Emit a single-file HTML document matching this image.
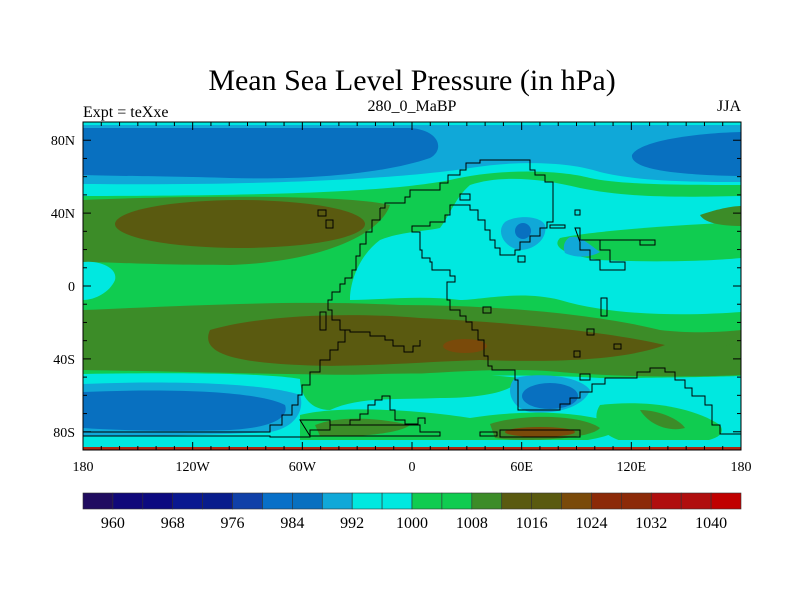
<!DOCTYPE html>
<html><head><meta charset="utf-8"><style>
body{margin:0;background:#fff;}
svg text{font-family:"Liberation Serif",serif;fill:#000;}
</style></head><body>
<svg id="s" width="800" height="600" xmlns="http://www.w3.org/2000/svg">
<defs><clipPath id="pc"><rect x="83" y="122" width="658" height="328"/></clipPath></defs>
<text x="412" y="90" font-size="30" text-anchor="middle">Mean Sea Level Pressure (in hPa)</text>
<text x="83" y="117" font-size="16">Expt = teXxe</text>
<text x="412" y="111" font-size="16" text-anchor="middle">280_0_MaBP</text>
<text x="741" y="111" font-size="16" text-anchor="end">JJA</text>
<g clip-path="url(#pc)">
<rect x="83" y="122" width="658" height="328" fill="#10CC50"/>
<path d="M83 122H741V185C690 185 620 185 590 178C560 170 500 168 450 180C400 190 300 196 83 196Z" fill="#00E8E0"/>
<path d="M83 125H741V182C700 182 640 182 600 172C570 162 520 160 470 168C420 176 300 186 83 184Z" fill="#10A8D8"/>
<path d="M83 128H410C440 130 445 150 430 158C380 175 300 180 230 178C160 176 110 176 83 175Z" fill="#0870C0"/>
<path d="M741 132C700 133 640 140 632 155C630 170 680 175 741 176Z" fill="#0870C0"/>
<path d="M83 200C200 195 350 195 390 205C380 235 320 262 230 265C150 265 110 262 83 262Z" fill="#3C8C28"/>
<ellipse cx="240" cy="224" rx="125" ry="24" fill="#5A5A10"/>
<!-- central cyan -->
<path d="M470 185C500 175 540 178 580 188C620 196 660 198 741 196V312C700 315 620 318 560 300C520 290 480 300 460 300C420 295 380 300 350 300C350 280 360 255 380 240C400 232 420 232 440 228C450 215 455 198 470 185Z" fill="#00E8E0"/>
<path d="M560 238C600 230 680 225 741 222V258C700 262 640 262 600 260C570 256 550 248 560 238Z" fill="#10CC50"/>
<path d="M700 215C720 208 735 206 741 206V226C725 226 705 224 700 215Z" fill="#3C8C28"/>
<path d="M83 262C100 260 118 268 115 280C110 292 95 300 83 300Z" fill="#00E8E0"/>
<path d="M505 222C515 215 540 215 545 225C548 238 535 250 520 250C505 248 495 232 505 222Z" fill="#10A8D8"/>
<ellipse cx="523" cy="231" rx="8" ry="8" fill="#0870C0"/>
<path d="M570 237C580 235 590 245 600 252C590 258 575 258 565 253C562 246 565 240 570 237Z" fill="#10A8D8"/>
<!-- southern subtropical high -->
<path d="M83 310C200 305 300 300 400 305C500 305 600 315 660 330C700 335 741 330 741 330V375C680 378 600 376 560 372C500 366 420 375 380 375C300 375 200 372 83 370Z" fill="#3C8C28"/>
<path d="M210 330C260 315 350 312 420 318C500 322 600 330 665 345C620 362 540 362 480 360C420 362 350 368 300 365C230 362 200 352 210 330Z" fill="#5A5A10"/>
<ellipse cx="465" cy="346" rx="22" ry="7" fill="#7A4A0A"/>
<path d="M741 342C720 345 712 352 720 358C728 362 741 362 741 362Z" fill="#3C8C28"/>
<!-- southern lows -->
<path d="M83 374C200 372 280 374 305 380C320 395 310 430 300 445H83Z" fill="#00E8E0"/>
<path d="M83 384C180 380 270 384 300 395C305 410 295 428 270 432C200 436 120 436 83 436Z" fill="#10A8D8"/>
<path d="M83 392C180 388 260 392 285 405C290 418 270 428 230 430C170 432 110 430 83 428Z" fill="#0870C0"/>
<path d="M305 385C400 378 500 372 600 378C680 378 741 376 741 376V448H300Z" fill="#00E8E0"/>
<path d="M300 378C380 372 470 372 520 378C515 392 480 398 440 398C400 400 360 396 330 410C310 410 300 395 300 378Z" fill="#10CC50"/>
<path d="M600 405C640 400 690 405 720 425C730 440 700 445 640 445C600 440 590 420 600 405Z" fill="#10CC50"/>
<path d="M640 410C660 410 680 420 685 428C670 432 650 426 640 410Z" fill="#3C8C28"/>
<path d="M515 378C540 372 580 376 590 390C585 405 560 415 530 412C510 408 505 388 515 378Z" fill="#10A8D8"/>
<ellipse cx="550" cy="396" rx="28" ry="13" fill="#0870C0"/>
<path d="M300 415C340 405 420 410 470 418C520 410 580 410 620 425C620 440 560 446 480 446C400 446 320 446 300 440Z" fill="#10CC50"/>
<path d="M315 425C340 415 380 418 410 425C400 434 350 438 320 436Z" fill="#3C8C28"/>
<path d="M490 424C520 414 580 414 600 428C590 440 520 442 495 438Z" fill="#3C8C28"/>
<ellipse cx="540" cy="432" rx="35" ry="5" fill="#7A4A0A"/>
<rect x="83" y="440" width="658" height="7" fill="#00E8E0"/>
<rect x="83" y="447" width="658" height="3" fill="#B02810"/>
<g fill="none" stroke="#000" stroke-width="1">
<path d="M380 208H385V203H405V197H410V190H440V183H448V175H460V170H466V163H480V160H530V170H535V175H545V182H553V222H547V228H540V236H530V242H520V250H515V255H500V248H495V240H490V230H485V220H478V210H470V205H450V215H445V222H430V226H412V232H420V250H422V258H430V262H432V270H450V276H455V282H447V300H450V310H460V316H466V322H472V330H478V340H484V356H488V366H492V370H515V380H518V410H560V404H570V398H580V392H592V384H605V378H637V372H650V368H665V372H675V380H685V388H692V396H705V405H712V425H720V434H741"/>
<path d="M380 208V220H372V232H366V244H360V256H356V270H352V278H345V284H340V292H332V300H328V310H332V320H340V330H350V332H370V336H385V340H393V346H404V352H413V346H420V340"/>
<path d="M345 330V342H338V350H330V360H320V372H310V385H302V395H298V405H292V415H282V425H270V432H83"/>
<path d="M83 436H270V437H310V430H330V425H350V420H360V414H368V405H375V400H382V396H390V410H395V420H405V424H418V418H425V424"/>
<path d="M300 420H330V425H420V432H440V436H310Z"/>
<path d="M480 432H497V436H480Z"/>
<path d="M500 430H580V437H500Z"/>
<path d="M460 194H470V200H460Z"/>
<path d="M575 210H580V215H575Z"/>
<path d="M550 225H565V228H550Z"/>
<path d="M575 228H580V240H640V245H655V240H600V250H610V262H625V270H600V260H590V250H580V242Z"/>
<path d="M518 256H525V262H518Z"/>
<path d="M601 298H607V316H601Z"/>
<path d="M318 210H326V216H318Z"/>
<path d="M326 220H333V228H326Z"/>
<path d="M320 312H326V330H320Z"/>
<path d="M483 307H491V313H483Z"/>
<path d="M587 329H594V335H587Z"/>
<path d="M614 344H621V349H614Z"/>
<path d="M574 351H580V357H574Z"/>
<path d="M580 374H590V380H580Z"/>
</g>
</g>
<rect x="83" y="122" width="658" height="328" fill="none" stroke="#000" stroke-width="1"/>
<g id="axes"></g>
<g id="cbar"></g>
</svg>
<script>
const lonTicks=[-180,-120,-60,0,60,120,180];
const lonLabels=["180","120W","60W","0","60E","120E","180"];
const latTicks=[80,40,0,-40,-80];
const latLabels=["80N","40N","0","40S","80S"];
const levels=[960,964,968,972,976,980,984,988,992,996,1000,1004,1008,1012,1016,1020,1024,1028,1032,1036,1040];
const levelColors=["#200C60","#10087A","#0C0A80","#0A1890","#081C8C","#1040A8","#0870C8","#0870C0","#10A8D8","#00E8E0","#00E8E0","#10CC50","#10CC50","#3C8C28","#5A5A10","#5A5A10","#7A4A0A","#8C2A08","#8C2A08","#B00E0E","#B00E0E","#C00000"];
const NS="http://www.w3.org/2000/svg";
const X0=83,X1=741,Y0=122,Y1=450;
const xs=l=>X0+(l+180)/360*(X1-X0);
const ys=l=>Y0+(90-l)/180*(Y1-Y0);
const ax=document.getElementById('axes');
function mk(tag,at,parent){const e=document.createElementNS(NS,tag);for(const k in at)e.setAttribute(k,at[k]);parent.appendChild(e);return e;}
for(let l=-180;l<=180;l+=10){const x=xs(l);const len=(l%60===0)?8:4;
 const t1=mk('line',{x1:x,x2:x,y1:Y1,y2:Y1-len,stroke:'#000'},ax);
 
 
 const t2=mk('line',{x1:x,x2:x,y1:Y0,y2:Y0+len,stroke:'#000'},ax);
 
 }
for(let l=-90;l<=90;l+=10){const y=ys(l);const len=(l%40===0&&Math.abs(l)<=80)?8:4;
 const t1=mk('line',{x1:X0,x2:X0+len,y1:y,y2:y,stroke:'#000'},ax);
 
 
 const t2=mk('line',{x1:X1,x2:X1-len,y1:y,y2:y,stroke:'#000'},ax);
 
 }
lonTicks.forEach((l,i)=>{const t=mk('text',{x:xs(l),y:471,'font-size':14,'text-anchor':'middle'},ax);t.textContent=lonLabels[i];
 
 });
latTicks.forEach((l,i)=>{const t=mk('text',{x:75,y:ys(l)+5,'font-size':14,'text-anchor':'end'},ax);t.textContent=latLabels[i];
 
 });
const cb=document.getElementById('cbar');
const n=levelColors.length, bw=(X1-X0)/n;
levelColors.forEach((c,i)=>{const r=mk('rect',{x:X0+i*bw,y:493,width:bw,height:16,fill:c,stroke:'#333','stroke-width':0.6},cb);
 
 });
levels.forEach((v,i)=>{if(i%2)return;const t=mk('text',{x:X0+(i+1)*bw,y:528,'font-size':16,'text-anchor':'middle'},cb);t.textContent=v;
 
 });
</script>
</body></html>
